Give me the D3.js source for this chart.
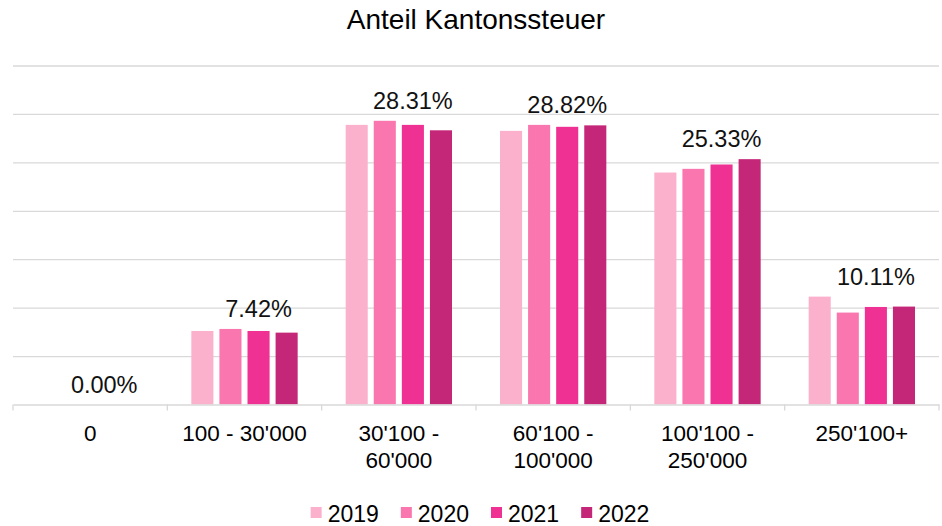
<!DOCTYPE html>
<html>
<head>
<meta charset="utf-8">
<script src="https://cdn.jsdelivr.net/npm/d3@7"></script>
<style>
	body { margin: 0; background: #fff; }
	svg { display: block; font-family: 'Liberation Sans', Arial, sans-serif; }
</style>
</head>
<body>
<div id="chart"></div>
<script>
// Daten
var categories = ['0', '100 - 30\'000', '30\'100 - 60\'000', '60\'100 - 100\'000', '100\'100 - 250\'000', '250\'100+'];
var categoryLines = [['0'], ['100 - 30\'000'], ['30\'100 -', '60\'000'], ['60\'100 -', '100\'000'], ['100\'100 -', '250\'000'], ['250\'100+']];
var years = ['2019', '2020', '2021', '2022'];
var v2019 = [0, 7.59, 28.87, 28.25, 23.95, 11.14];
var v2020 = [0, 7.80, 29.29, 28.87, 24.33, 9.49];
var v2021 = [0, 7.59, 28.87, 28.67, 24.78, 10.07];
var v2022 = [0, 7.42, 28.31, 28.82, 25.33, 10.11];
var labelValues = ['0.00%', '7.42%', '28.31%', '28.82%', '25.33%', '10.11%'];
var yTicks = [0, 5, 10, 15, 20, 25, 30, 35];
var colors = ['#fbb1cc', '#f976ae', '#ee3193', '#c52778'];

var cfg = {
	w: 942,
	h: 526,
	left: 13,
	right: 939,
	top: 65.5,
	bottom: 404.5
};

var series = [v2019, v2020, v2021, v2022];
var data = categories.map(function(c, i) {
	return {
		key: c,
		values: years.map(function(y, j) { return { year: y, value: series[j][i] }; })
	};
});

var svg = d3.select('#chart').append('svg')
	.attr('width', cfg.w)
	.attr('height', cfg.h);

var x0 = d3.scaleBand()
	.domain(categories)
	.range([cfg.left, cfg.right])
	.padding(0);
var x1 = d3.scaleBand()
	.domain(years)
	.range([24, x0.bandwidth() - 24])
	.paddingInner(0.214)
	.paddingOuter(0);
var y = d3.scaleLinear()
	.domain([0, 35])
	.range([cfg.bottom, cfg.top]);

// Titel
svg.append('text')
	.attr('x', (cfg.left + cfg.right) / 2)
	.attr('y', 28.5)
	.attr('text-anchor', 'middle')
	.style('font-size', '28px')
	.style('fill', '#000')
	.text('Anteil Kantonssteuer');

// Gitterlinien
var yAxis = d3.axisLeft(y).tickValues(yTicks.slice(1)).tickSize(-(cfg.right - cfg.left)).tickFormat('');
svg.append('g')
	.attr('transform', 'translate(' + cfg.left + ',0)')
	.call(function(g) {
		g.call(yAxis);
		g.select('.domain').remove();
		g.selectAll('.tick line').attr('stroke', '#d9d9d9').attr('stroke-width', 1.3);
	});

// Balken
var groups = svg.append('g')
	.selectAll('.grp')
	.data(data)
	.enter()
	.append('g')
	.attr('transform', function(d) { return 'translate(' + x0(d.key) + ',0)'; });

groups.selectAll('rect')
	.data(function(d) { return d.values; })
	.enter()
	.append('rect')
	.attr('x', function(d) { return x1(d.year); })
	.attr('width', x1.bandwidth())
	.attr('y', function(d) { return y(d.value); })
	.attr('height', function(d) { return y(0) - y(d.value); })
	.attr('fill', function(d, i) { return colors[i]; });

// Datenbeschriftung
groups.append('text')
	.attr('x', x1('2021') + x1.bandwidth() / 2)
	.attr('y', function(d) { return y(d3.max(d.values, function(v) { return v.value; })) - 12; })
	.attr('text-anchor', 'middle')
	.style('font-size', '23.5px')
	.style('fill', '#111')
	.text(function(d, i) { return labelValues[i]; });

// X-Achse
var xAxis = d3.axisBottom(x0).tickSize(0).tickFormat('');
svg.append('g')
	.attr('transform', 'translate(0,' + cfg.bottom + ')')
	.call(function(g) {
		g.call(xAxis);
		g.select('.domain').attr('stroke', '#d9d9d9').attr('stroke-width', 1.3);
	});

var bounds = categories.map(function(c) { return x0(c); }).concat([cfg.right]);
svg.append('g')
	.selectAll('line')
	.data(bounds)
	.enter()
	.append('line')
	.attr('x1', function(d) { return d; })
	.attr('x2', function(d) { return d; })
	.attr('y1', cfg.bottom)
	.attr('y2', cfg.bottom + 6)
	.attr('stroke', '#d9d9d9')
	.attr('stroke-width', 1.3);

svg.append('g')
	.selectAll('text')
	.data(categories)
	.enter()
	.append('text')
	.attr('x', function(d) { return x0(d) + x0.bandwidth() / 2; })
	.attr('y', 441)
	.attr('text-anchor', 'middle')
	.style('font-size', '22.5px')
	.style('fill', '#000')
	.each(function(d, i) {
		var t = d3.select(this);
		categoryLines[i].forEach(function(line, k) {
			t.append('tspan')
				.attr('x', x0(d) + x0.bandwidth() / 2)
				.attr('dy', k === 0 ? 0 : 27)
				.text(line);
		});
	});

// Legende
var legend = svg.append('g');
var offset = 0;
years.forEach(function(yr, i) {
	var item = legend.append('g').attr('transform', 'translate(' + offset + ',0)');
	item.append('rect')
		.attr('x', 0)
		.attr('y', 507)
		.attr('width', 11)
		.attr('height', 11)
		.attr('fill', colors[i]);
	var t = item.append('text')
		.attr('x', 17)
		.attr('y', 521.5)
		.style('font-size', '23px')
		.style('fill', '#000')
		.text(yr);
	offset += 17 + t.node().getComputedTextLength() + 22;
});
var lw = offset - 22;
legend.attr('transform', 'translate(' + (480 - lw / 2) + ',0)');
</script>
</body>
</html>
